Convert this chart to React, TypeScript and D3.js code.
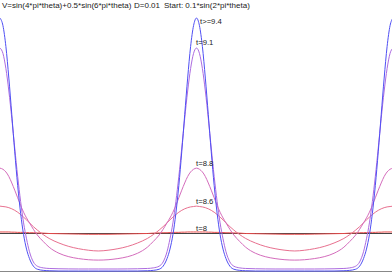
import React from "react";
import * as d3 from "d3";

// theta grid, denser near the peaks at 0, 0.5 and 1
const theta = [
  0, 0.0075, 0.015, 0.0225, 0.03, 0.0375, 0.045, 0.0525, 0.06, 0.0675, 0.075, 0.085, 0.095, 0.11, 0.125, 0.15, 0.175, 0.2, 0.225, 0.25,
  0.275, 0.3, 0.325, 0.35, 0.375, 0.39, 0.405, 0.415, 0.425, 0.4325, 0.44, 0.4475, 0.455, 0.4625, 0.47, 0.4775, 0.485, 0.4925, 0.5,
  0.5075, 0.515, 0.5225, 0.53, 0.5375, 0.545, 0.5525, 0.56, 0.5675, 0.575, 0.585, 0.595, 0.61, 0.625, 0.65, 0.675, 0.7, 0.725, 0.75,
  0.775, 0.8, 0.825, 0.85, 0.875, 0.89, 0.905, 0.915, 0.925, 0.9325, 0.94, 0.9475, 0.955, 0.9625, 0.97, 0.9775, 0.985, 0.9925, 1,
];

// density for each time
const rhoT80 = [
  1.04, 1.04, 1.04, 1.04, 1.035, 1.035, 1.03, 1.03, 1.03, 1.025, 1.02, 1.02, 1.015, 1.01, 1.0, 0.995, 0.99, 0.985, 0.98, 0.98,
  0.98, 0.985, 0.99, 0.995, 1.0, 1.01, 1.015, 1.02, 1.02, 1.025, 1.03, 1.03, 1.03, 1.035, 1.035, 1.04, 1.04, 1.04, 1.04,
  1.04, 1.04, 1.04, 1.035, 1.035, 1.03, 1.03, 1.03, 1.025, 1.02, 1.02, 1.015, 1.01, 1.0, 0.995, 0.99, 0.985, 0.98, 0.98,
  0.98, 0.985, 0.99, 0.995, 1.0, 1.01, 1.015, 1.02, 1.02, 1.025, 1.03, 1.03, 1.03, 1.035, 1.035, 1.04, 1.04, 1.04, 1.04,
];
const rhoT86 = [
  1.72, 1.71, 1.7, 1.68, 1.65, 1.61, 1.56, 1.5, 1.43, 1.36, 1.28, 1.18, 1.09, 0.97, 0.87, 0.75, 0.66, 0.6, 0.56, 0.54,
  0.56, 0.6, 0.66, 0.75, 0.87, 0.97, 1.09, 1.18, 1.28, 1.36, 1.43, 1.5, 1.56, 1.61, 1.65, 1.68, 1.7, 1.71, 1.72,
  1.71, 1.7, 1.68, 1.65, 1.61, 1.56, 1.5, 1.43, 1.36, 1.28, 1.18, 1.09, 0.97, 0.87, 0.75, 0.66, 0.6, 0.56, 0.54,
  0.56, 0.6, 0.66, 0.75, 0.87, 0.97, 1.09, 1.18, 1.28, 1.36, 1.43, 1.5, 1.56, 1.61, 1.65, 1.68, 1.7, 1.71, 1.72,
];
const rhoT88 = [
  2.72, 2.69, 2.62, 2.5, 2.33, 2.14, 1.94, 1.74, 1.56, 1.41, 1.28, 1.11, 0.96, 0.79, 0.64, 0.48, 0.39, 0.34, 0.31, 0.3,
  0.31, 0.34, 0.39, 0.48, 0.64, 0.79, 0.96, 1.11, 1.28, 1.41, 1.56, 1.74, 1.94, 2.14, 2.33, 2.5, 2.62, 2.69, 2.72,
  2.69, 2.62, 2.5, 2.33, 2.14, 1.94, 1.74, 1.56, 1.41, 1.28, 1.11, 0.96, 0.79, 0.64, 0.48, 0.39, 0.34, 0.31, 0.3,
  0.31, 0.34, 0.39, 0.48, 0.64, 0.79, 0.96, 1.11, 1.28, 1.41, 1.56, 1.74, 1.94, 2.14, 2.33, 2.5, 2.62, 2.69, 2.72,
];
const rhoT91 = [
  5.88, 5.74, 5.34, 4.75, 4.03, 3.25, 2.5, 1.84, 1.28, 0.86, 0.52, 0.25, 0.14, 0.095, 0.08, 0.072, 0.068, 0.066, 0.066, 0.066,
  0.066, 0.066, 0.068, 0.072, 0.08, 0.095, 0.14, 0.25, 0.52, 0.86, 1.28, 1.84, 2.5, 3.25, 4.03, 4.75, 5.34, 5.74, 5.88,
  5.74, 5.34, 4.75, 4.03, 3.25, 2.5, 1.84, 1.28, 0.86, 0.52, 0.25, 0.14, 0.095, 0.08, 0.072, 0.068, 0.066, 0.066, 0.066,
  0.066, 0.066, 0.068, 0.072, 0.08, 0.095, 0.14, 0.25, 0.52, 0.86, 1.28, 1.84, 2.5, 3.25, 4.03, 4.75, 5.34, 5.74, 5.88,
];
const rhoT94 = [
  6.67, 6.47, 5.92, 5.09, 4.13, 3.15, 2.26, 1.53, 0.97, 0.59, 0.34, 0.14, 0.06, 0.03, 0.02, 0.013, 0.012, 0.012, 0.012, 0.012,
  0.012, 0.012, 0.012, 0.013, 0.02, 0.03, 0.06, 0.14, 0.34, 0.59, 0.97, 1.53, 2.26, 3.15, 4.13, 5.09, 5.92, 6.47, 6.67,
  6.47, 5.92, 5.09, 4.13, 3.15, 2.26, 1.53, 0.97, 0.59, 0.34, 0.14, 0.06, 0.03, 0.02, 0.013, 0.012, 0.012, 0.012, 0.012,
  0.012, 0.012, 0.012, 0.013, 0.02, 0.03, 0.06, 0.14, 0.34, 0.59, 0.97, 1.53, 2.26, 3.15, 4.13, 5.09, 5.92, 6.47, 6.67,
];

const seriesLabels = ["t=8", "t=8.6", "t=8.8", "t=9.1", "t>=9.4"];
const seriesValues = [rhoT80, rhoT86, rhoT88, rhoT91, rhoT94];
const titleParts = ["V=sin(4*pi*theta)+0.5*sin(6*pi*theta)", "D=0.01", "Start: 0.1*sin(2*pi*theta)"];

const W = 392;
const H = 275;
const colors = ["#e84a4a", "#e8708f", "#d46cbc", "#ad6ce0", "#4f4ff4"];
const labelDx = [-0.5, -0.5, -0.5, -0.5, 3.5];
const labelDy = [-1, -2, -2, -3, 6];
const titleX = [2, 134, 164];

const App = () => {
  const x = d3.scaleLinear().domain([0, 1]).range([0, 393]);
  const y = d3.scaleLinear().domain([0, 7]).range([271.5, 5.5]);

  const line = d3
    .line<number>()
    .x((d, i) => x(theta[i]))
    .y((d) => y(d))
    .curve(d3.curveMonotoneX);

  return (
    <svg
      width={W}
      height={H}
      style={{ position: "absolute", left: 0, top: 0, background: "#fff" }}
      fontFamily="'Liberation Sans', Arial, sans-serif"
    >
      {titleParts.map((t, i) => (
        <text key={t} x={titleX[i]} y={8} fontSize={8} fill="#222">
          {t}
        </text>
      ))}

      {/* uniform density and zero lines */}
      <line x1={0} x2={W} y1={y(1)} y2={y(1)} stroke="#444" strokeWidth={1} />
      <line x1={0} x2={W} y1={y(0)} y2={y(0)} stroke="#888" strokeWidth={1} />

      {seriesValues.map((vals, i) => (
        <path key={seriesLabels[i]} d={line(vals) || ""} fill="none" stroke={colors[i]} strokeWidth={1} />
      ))}

      {seriesValues.map((vals, i) => (
        <text
          key={"l" + seriesLabels[i]}
          x={x(0.5) + labelDx[i]}
          y={y(d3.max(vals) as number) + labelDy[i]}
          fontSize={7.7}
          fill="#222"
        >
          {seriesLabels[i]}
        </text>
      ))}
    </svg>
  );
};

export default App;
